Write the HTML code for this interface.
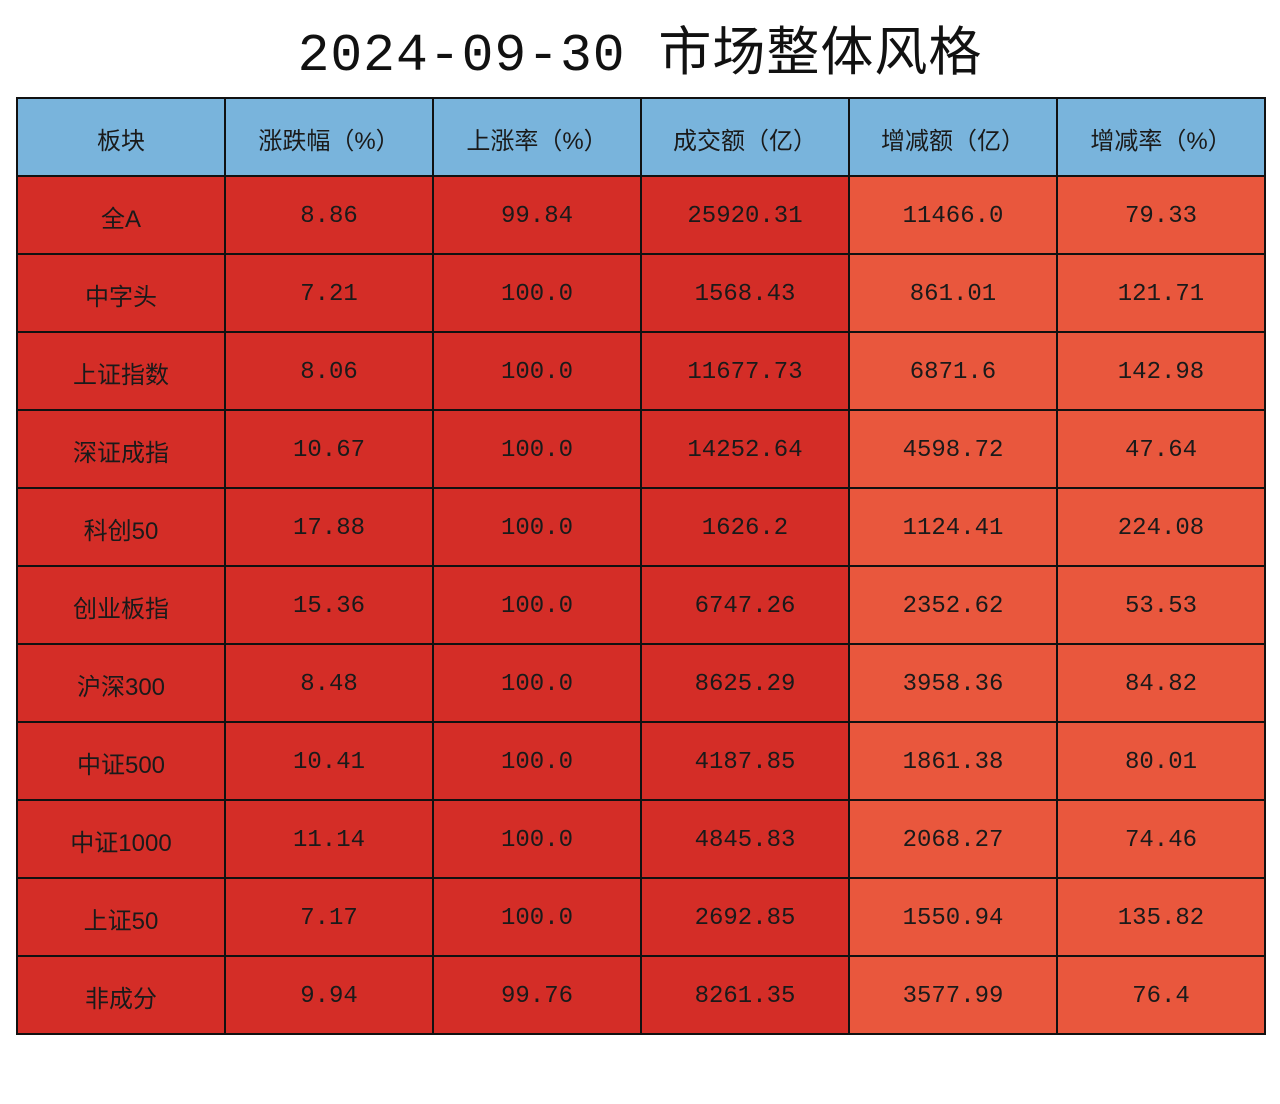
<!DOCTYPE html>
<html><head><meta charset="utf-8">
<style>
body{margin:0;width:1280px;height:1104px;background:#fff;overflow:hidden;font-family:"Liberation Sans","Noto Sans CJK SC",sans-serif;}
h1{position:absolute;left:0;top:10px;width:1280px;margin:0;text-align:center;font-size:53px;font-weight:normal;color:#111;font-family:"Liberation Mono","Noto Sans CJK SC",monospace;letter-spacing:1px}
table{position:absolute;left:16px;top:97px;width:1250px;border-collapse:collapse;table-layout:fixed}
td,th{border:2px solid #111;height:78px;text-align:center;font-size:24px;color:#1a1a1a;font-weight:normal;padding:2px 0 0 0;box-sizing:border-box}
tr{height:78px}
th{background:#79b4dc}
td{background:#d42d27}
td.o{background:#e9573d}
.num{font-family:"Liberation Mono","Noto Sans CJK SC",monospace}
</style></head><body>
<h1>2024-09-30 市场整体风格</h1>
<table>
<thead><tr>
<th>板块</th>
<th>涨跌幅（%）</th>
<th>上涨率（%）</th>
<th>成交额（亿）</th>
<th>增减额（亿）</th>
<th>增减率（%）</th>
</tr></thead>
<tbody>
<tr><td>全A</td><td class="num">8.86</td><td class="num">99.84</td><td class="num">25920.31</td><td class="o num">11466.0</td><td class="o num">79.33</td></tr>
<tr><td>中字头</td><td class="num">7.21</td><td class="num">100.0</td><td class="num">1568.43</td><td class="o num">861.01</td><td class="o num">121.71</td></tr>
<tr><td>上证指数</td><td class="num">8.06</td><td class="num">100.0</td><td class="num">11677.73</td><td class="o num">6871.6</td><td class="o num">142.98</td></tr>
<tr><td>深证成指</td><td class="num">10.67</td><td class="num">100.0</td><td class="num">14252.64</td><td class="o num">4598.72</td><td class="o num">47.64</td></tr>
<tr><td>科创50</td><td class="num">17.88</td><td class="num">100.0</td><td class="num">1626.2</td><td class="o num">1124.41</td><td class="o num">224.08</td></tr>
<tr><td>创业板指</td><td class="num">15.36</td><td class="num">100.0</td><td class="num">6747.26</td><td class="o num">2352.62</td><td class="o num">53.53</td></tr>
<tr><td>沪深300</td><td class="num">8.48</td><td class="num">100.0</td><td class="num">8625.29</td><td class="o num">3958.36</td><td class="o num">84.82</td></tr>
<tr><td>中证500</td><td class="num">10.41</td><td class="num">100.0</td><td class="num">4187.85</td><td class="o num">1861.38</td><td class="o num">80.01</td></tr>
<tr><td>中证1000</td><td class="num">11.14</td><td class="num">100.0</td><td class="num">4845.83</td><td class="o num">2068.27</td><td class="o num">74.46</td></tr>
<tr><td>上证50</td><td class="num">7.17</td><td class="num">100.0</td><td class="num">2692.85</td><td class="o num">1550.94</td><td class="o num">135.82</td></tr>
<tr><td>非成分</td><td class="num">9.94</td><td class="num">99.76</td><td class="num">8261.35</td><td class="o num">3577.99</td><td class="o num">76.4</td></tr>
</tbody></table>
</body></html>
